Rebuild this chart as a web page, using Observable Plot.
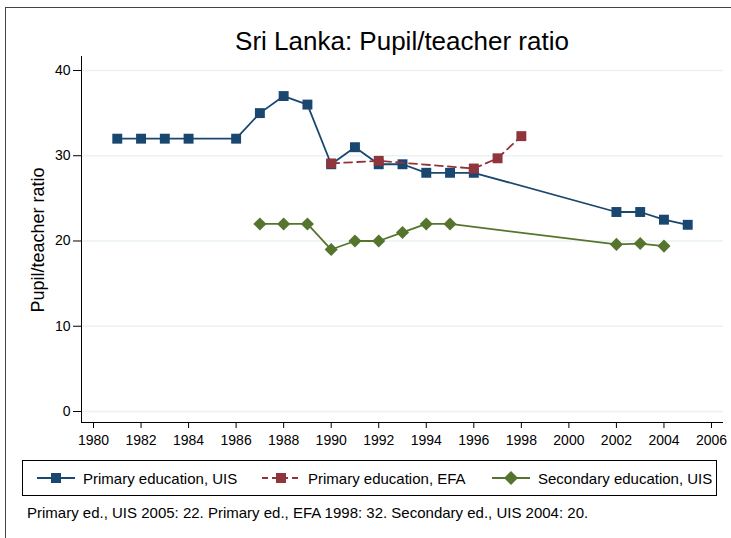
<!DOCTYPE html>
<html>
<head>
<meta charset="utf-8">
<script src="https://cdn.jsdelivr.net/npm/d3@7"></script>
<script src="https://cdn.jsdelivr.net/npm/@observablehq/plot@0.6"></script>
<style>
  html, body { margin: 0; padding: 0; background: #fff; overflow: hidden; }
  body { width: 731px; height: 538px; position: relative; font-family: "Liberation Sans", Arial, sans-serif; }
  #frame { position: absolute; left: 5px; top: 7px; width: 760px; height: 560px; border: 1px solid #444; box-sizing: border-box; }
  #title { position: absolute; left: 81px; width: 642px; top: 26px; text-align: center; font-size: 26px; color: #000; }
  #ylabel { position: absolute; left: 38px; top: 240px; transform: translate(-50%, -50%) rotate(-90deg); font-size: 18px; white-space: nowrap; }
  #chart { position: absolute; left: 0; top: 0; }
  #legend { position: absolute; left: 22px; top: 460px; width: 695px; height: 36px; border: 1px solid #000; box-sizing: border-box; }
  .item { position: absolute; top: 0; height: 34px; display: flex; align-items: center; font-size: 15px; }
  .item svg { margin-right: 8px; }
  #caption { position: absolute; left: 27px; top: 504px; font-size: 15px; }
</style>
</head>
<body>
<div id="frame"></div>
<div id="chart"></div>
<div id="title">Sri Lanka: Pupil/teacher ratio</div>
<div id="ylabel">Pupil/teacher ratio</div>
<div id="legend"></div>
<div id="caption">Primary ed., UIS 2005: 22. Primary ed., EFA 1998: 32. Secondary ed., UIS 2004: 20.</div>
<script>
// ---- data ----
const primaryUISYears  = [1981, 1982, 1983, 1984, 1986, 1987, 1988, 1989, 1990, 1991, 1992, 1993, 1994, 1995, 1996, 2002, 2003, 2004, 2005];
const primaryUISValues = [32, 32, 32, 32, 32, 35, 37, 36, 29, 31, 29, 29, 28, 28, 28, 23.4, 23.4, 22.5, 21.9];

const primaryEFAYears  = [1990, 1992, 1996, 1997, 1998];
const primaryEFAValues = [29.1, 29.4, 28.5, 29.7, 32.3];

const secondaryUISYears  = [1987, 1988, 1989, 1990, 1991, 1992, 1993, 1994, 1995, 2002, 2003, 2004];
const secondaryUISValues = [22, 22, 22, 19, 20, 20, 21, 22, 22, 19.6, 19.7, 19.4];

const seriesNames = ["Primary education, UIS", "Primary education, EFA", "Secondary education, UIS"];
const xTicks = [1980, 1982, 1984, 1986, 1988, 1990, 1992, 1994, 1996, 1998, 2000, 2002, 2004, 2006];
const yTicks = [0, 10, 20, 30, 40];

// ---- styling ----
const colors = ["#1a476f", "#90353b", "#55752f"];
const xDomain = [1979.495, 2006.505];
const yDomain = [-1.29, 41.64];

const toRows = (years, values) => years.map((x, i) => ({x, y: values[i]}));
const pUIS = toRows(primaryUISYears, primaryUISValues);
const pEFA = toRows(primaryEFAYears, primaryEFAValues);
const sUIS = toRows(secondaryUISYears, secondaryUISValues);

const plot = Plot.plot({
  width: 731,
  height: 455,
  marginLeft: 81,
  marginRight: 8,
  marginTop: 56,
  marginBottom: 33,
  style: {fontFamily: '"Liberation Sans", Arial, sans-serif', fontSize: "14px", color: "#000", background: "transparent", overflow: "visible"},
  x: {domain: xDomain, ticks: xTicks, tickFormat: d => String(d), label: null},
  y: {domain: yDomain, ticks: yTicks, label: null},
  marks: [
    Plot.gridY(yTicks, {stroke: "#eaf2f3", strokeOpacity: 1, strokeWidth: 1.5}),
    Plot.axisX(xTicks, {tickSize: 6, tickPadding: 7, tickFormat: d => String(d), fontSize: 14, stroke: "#000"}),
    Plot.axisY(yTicks, {tickSize: 8, tickPadding: 3, fontSize: 14, stroke: "#000"}),
    Plot.ruleX([xDomain[0]], {stroke: "#000"}),
    Plot.ruleY([yDomain[0]], {stroke: "#000"}),
    Plot.line(sUIS, {x: "x", y: "y", stroke: colors[2], strokeWidth: 1.8}),
    Plot.dot(sUIS, {x: "x", y: "y", symbol: "diamond2", r: 5.9, fill: colors[2], stroke: "none"}),
    Plot.line(pUIS, {x: "x", y: "y", stroke: colors[0], strokeWidth: 1.8}),
    Plot.dot(pUIS, {x: "x", y: "y", symbol: "square", r: 5.6, fill: colors[0], stroke: "none"}),
    Plot.line(pEFA, {x: "x", y: "y", stroke: colors[1], strokeWidth: 1.8, strokeDasharray: "8,5"}),
    Plot.dot(pEFA, {x: "x", y: "y", symbol: "square", r: 5.6, fill: colors[1], stroke: "none"})
  ]
});
document.getElementById("chart").appendChild(plot);

// ---- legend ----
const legend = document.getElementById("legend");
const lefts = [14, 239, 469];
const symbols = ["square", "square", "diamond"];
const dashes = ["", "6,4", ""];
seriesNames.forEach((name, i) => {
  const div = document.createElement("div");
  div.className = "item";
  div.style.left = lefts[i] + "px";
  const sym = symbols[i] === "square"
    ? `<rect x="14" y="4" width="10" height="10" fill="${colors[i]}"/>`
    : `<path d="M19,2 L26,9 L19,16 L12,9 Z" fill="${colors[i]}"/>`;
  div.innerHTML = `<svg width="38" height="18"><line x1="0" y1="9" x2="38" y2="9" stroke="${colors[i]}" stroke-width="1.8" ${dashes[i] ? `stroke-dasharray="${dashes[i]}"` : ""}/>${sym}</svg><span>${name}</span>`;
  legend.appendChild(div);
});
</script>
</body>
</html>
